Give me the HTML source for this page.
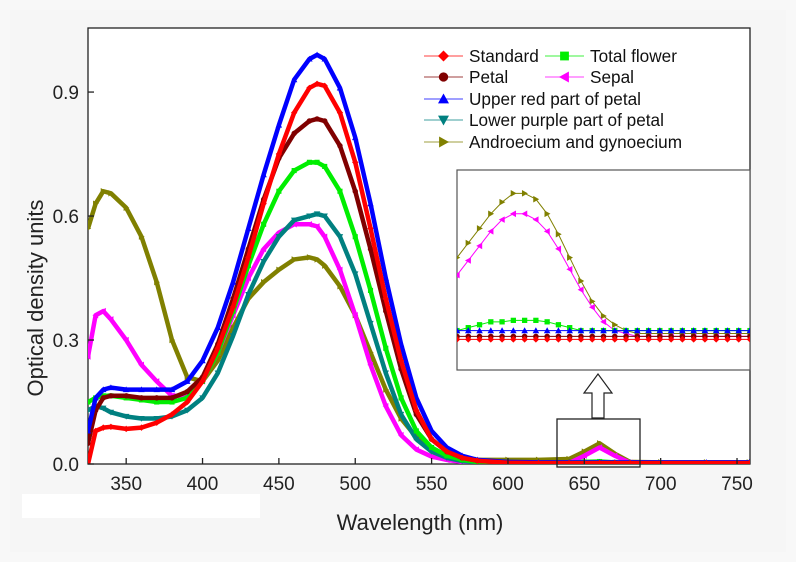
<!DOCTYPE html>
<html><head><meta charset="utf-8"><style>
body{margin:0;background:#f8f8f8;}
svg{display:block;font-family:"Liberation Sans",Arial,sans-serif;}
</style></head><body>
<svg id="chart" width="796" height="562" viewBox="0 0 796 562" xmlns="http://www.w3.org/2000/svg">
<rect x="0" y="0" width="796" height="562" fill="#f8f8f8"/>
<rect x="10" y="10" width="776" height="542" fill="#f6f6f6"/>
<rect x="112" y="160" width="118" height="22" fill="#fff"/>
<rect x="22" y="494" width="238" height="24" fill="#fff"/>
<g id="plot"></g>
</svg>
<script>
const wl = [325,330,335,340,350,360,370,380,390,400,410,420,430,440,450,460,470,475,480,490,500,510,520,530,540,550,560,570,580,600,620,640,650,660,670,680,700,730,758];
const sStandard = [0.0,0.08,0.088,0.09,0.085,0.088,0.1,0.12,0.15,0.2,0.28,0.38,0.5,0.63,0.75,0.85,0.91,0.92,0.915,0.85,0.73,0.57,0.4,0.25,0.13,0.06,0.03,0.015,0.008,0.003,0.002,0.002,0.002,0.002,0.002,0.002,0.002,0.002,0.002];
const sTotal = [0.15,0.16,0.165,0.165,0.16,0.155,0.15,0.15,0.16,0.2,0.27,0.37,0.48,0.58,0.66,0.71,0.73,0.73,0.72,0.66,0.55,0.42,0.28,0.16,0.08,0.04,0.02,0.01,0.005,0.003,0.003,0.003,0.005,0.006,0.004,0.003,0.003,0.003,0.003];
const sPetal = [0.05,0.13,0.16,0.165,0.165,0.16,0.16,0.16,0.175,0.21,0.29,0.4,0.52,0.64,0.74,0.8,0.83,0.835,0.83,0.77,0.66,0.52,0.37,0.23,0.12,0.06,0.03,0.015,0.008,0.003,0.002,0.002,0.002,0.002,0.002,0.002,0.002,0.002,0.002];
const sSepal = [0.26,0.36,0.37,0.35,0.3,0.24,0.2,0.165,0.165,0.2,0.27,0.36,0.45,0.52,0.56,0.58,0.58,0.575,0.55,0.47,0.36,0.24,0.14,0.07,0.035,0.018,0.01,0.005,0.003,0.002,0.002,0.002,0.02,0.04,0.02,0.003,0.002,0.002,0.002];
const sUpper = [0.08,0.16,0.18,0.185,0.18,0.18,0.18,0.18,0.2,0.25,0.33,0.44,0.57,0.7,0.82,0.93,0.98,0.99,0.98,0.91,0.79,0.63,0.45,0.29,0.16,0.08,0.04,0.02,0.01,0.005,0.004,0.004,0.004,0.004,0.004,0.004,0.004,0.004,0.004];
const sLower = [0.13,0.14,0.135,0.125,0.115,0.11,0.11,0.115,0.13,0.16,0.22,0.31,0.41,0.49,0.55,0.59,0.6,0.605,0.6,0.55,0.46,0.34,0.22,0.12,0.06,0.03,0.015,0.007,0.004,0.002,0.002,0.002,0.002,0.002,0.002,0.002,0.002,0.002,0.002];
const sAndro = [0.57,0.63,0.66,0.655,0.62,0.55,0.44,0.3,0.21,0.2,0.25,0.33,0.4,0.44,0.47,0.495,0.5,0.495,0.48,0.43,0.36,0.27,0.18,0.11,0.065,0.035,0.02,0.013,0.01,0.01,0.01,0.012,0.03,0.05,0.025,0.005,0.004,0.004,0.004];
const xTicks = [350,400,450,500,550,600,650,700,750];
const yTicks = [0.0,0.3,0.6,0.9];
const yTickLabels = ["0.0","0.3","0.6","0.9"];
const wlIn = [648,650,652,654,656,658,660,662,664,666,668,670,672,674,676,678,680,682,684,686,688,690,692,694,696,698,700];
const inAndro = [0.028,0.033,0.038,0.043,0.047,0.05,0.05,0.048,0.043,0.036,0.028,0.02,0.013,0.008,0.005,0.003,0.002,0.002,0.002,0.002,0.002,0.002,0.002,0.002,0.002,0.002,0.002];
const inSepal = [0.022,0.027,0.032,0.037,0.041,0.043,0.043,0.041,0.037,0.031,0.024,0.017,0.011,0.006,0.003,0.002,0.001,0.001,0.001,0.001,0.001,0.001,0.001,0.001,0.001,0.001,0.001];
const inTotal = [0.003,0.004,0.005,0.006,0.006,0.0065,0.0065,0.0065,0.006,0.005,0.004,0.003,0.003,0.003,0.003,0.003,0.003,0.003,0.003,0.003,0.003,0.003,0.003,0.003,0.003,0.003,0.003];
const inUpper = [0.003,0.003,0.003,0.003,0.003,0.003,0.003,0.003,0.003,0.003,0.003,0.003,0.003,0.003,0.003,0.003,0.003,0.003,0.003,0.003,0.003,0.003,0.003,0.003,0.003,0.003,0.003];
const inPetal = [0.001,0.001,0.001,0.001,0.001,0.001,0.001,0.001,0.001,0.001,0.001,0.001,0.001,0.001,0.001,0.001,0.001,0.001,0.001,0.001,0.001,0.001,0.001,0.001,0.001,0.001,0.001];
const inStandard = [0.0,0.0,0.0,0.0,0.0,0.0,0.0,0.0,0.0,0.0,0.0,0.0,0.0,0.0,0.0,0.0,0.0,0.0,0.0,0.0,0.0,0.0,0.0,0.0,0.0,0.0,0.0];

const NS="http://www.w3.org/2000/svg";
const g=document.getElementById('plot');
function mk(tag,attrs,parent){const e=document.createElementNS(NS,tag);for(const k in attrs)e.setAttribute(k,attrs[k]);(parent||g).appendChild(e);return e;}
const L=88,R=750,T=28,B=464;
const xMin=325,xMax=758.5,yMin=0,yMax=1.055;
const xs=v=>L+(v-xMin)/(xMax-xMin)*(R-L);
const ys=v=>B-(v-yMin)/(yMax-yMin)*(B-T);

function marker(shape,x,y,s,color,parent){
  let p;
  if(shape==='diamond')p=`M${x},${y-s} L${x+s},${y} L${x},${y+s} L${x-s},${y} Z`;
  else if(shape==='up')p=`M${x},${y-s} L${x+s},${y+s*0.8} L${x-s},${y+s*0.8} Z`;
  else if(shape==='down')p=`M${x},${y+s} L${x+s},${y-s*0.8} L${x-s},${y-s*0.8} Z`;
  else if(shape==='left')p=`M${x-s},${y} L${x+s*0.8},${y-s} L${x+s*0.8},${y+s} Z`;
  else if(shape==='right')p=`M${x+s},${y} L${x-s*0.8},${y-s} L${x-s*0.8},${y+s} Z`;
  else if(shape==='square')p=`M${x-s*0.8},${y-s*0.8} h${s*1.6} v${s*1.6} h${-s*1.6} Z`;
  if(shape==='circle')return mk('circle',{cx:x,cy:y,r:s*0.85,fill:color},parent);
  return mk('path',{d:p,fill:color},parent);
}

const series=[
 {name:'andro',data:sAndro,color:'#808000',shape:'right',inData:inAndro},
 {name:'sepal',data:sSepal,color:'#ff00ff',shape:'left',inData:inSepal},
 {name:'lower',data:sLower,color:'#008080',shape:'down',inData:null},
 {name:'total',data:sTotal,color:'#00ee00',shape:'square',inData:inTotal},
 {name:'petal',data:sPetal,color:'#800000',shape:'circle',inData:inPetal},
 {name:'upper',data:sUpper,color:'#0000ff',shape:'up',inData:inUpper},
 {name:'standard',data:sStandard,color:'#ff0000',shape:'diamond',inData:inStandard}
];
const frame=mk('rect',{x:L,y:T,width:R-L,height:B-T,fill:'#fff',stroke:'#222','stroke-width':1.3});


const clip=mk('clipPath',{id:'cp'});mk('rect',{x:L,y:T,width:R-L,height:B-T},clip);
series.forEach(s=>{
  const sg=mk('g',{'clip-path':'url(#cp)'});
  
  
  const pts=wl.map((w,i)=>xs(w)+','+ys(s.data[i])).join(' ');
  mk('polyline',{points:pts,fill:'none',stroke:s.color,'stroke-width':4.5,'stroke-linejoin':'round'},sg);
  wl.forEach((w,i)=>{const m=marker(s.shape,xs(w),ys(s.data[i]),3.2,s.color,sg);
    
    });
});
xTicks.forEach(t=>{
  mk('line',{x1:xs(t),x2:xs(t),y1:B,y2:B-6,stroke:'#222','stroke-width':1.3});
  const tx=mk('text',{x:xs(t),y:B+26,'text-anchor':'middle','font-size':19,fill:'#222'});tx.textContent=t;
  
  
});
yTicks.forEach((t,i)=>{
  mk('line',{x1:L,x2:L+6,y1:ys(t),y2:ys(t),stroke:'#222','stroke-width':1.3});
  const tx=mk('text',{x:L-9,y:ys(t)+7,'text-anchor':'end','font-size':19,fill:'#222'});tx.textContent=yTickLabels[i];
  
  
});
const xt=mk('text',{x:420,y:530,'text-anchor':'middle','font-size':22,fill:'#222'});xt.textContent='Wavelength (nm)';


const yt=mk('text',{x:0,y:0,transform:'translate(43,298) rotate(-90)','text-anchor':'middle','font-size':22,fill:'#222'});yt.textContent='Optical density units';



const zb=mk('rect',{x:557,y:419,width:83,height:48,fill:'none',stroke:'#222','stroke-width':1.3});


const ar=mk('path',{d:'M592,418 V393 H584 L598,374 L612,393 H604 V418 Z',fill:'#fff',stroke:'#222','stroke-width':1.2});



const IL=457,IR=750,IT=170,IB=370,ixMin=648,ixMax=700,iyMin=-0.0105,iyMax=0.058;
const ixs=v=>IL+(v-ixMin)/(ixMax-ixMin)*(IR-IL);
const iys=v=>IB-(v-iyMin)/(iyMax-iyMin)*(IB-IT);
const ib=mk('rect',{x:IL,y:IT,width:IR-IL,height:IB-IT,fill:'#fff',stroke:'#555','stroke-width':1.2});


const clip2=mk('clipPath',{id:'cp2'});mk('rect',{x:IL,y:IT,width:IR-IL,height:IB-IT},clip2);
series.forEach(s=>{
  if(!s.inData)return;
  const sg=mk('g',{'clip-path':'url(#cp2)'});
  
  
  mk('polyline',{points:wlIn.map((w,i)=>ixs(w)+','+iys(s.inData[i])).join(' '),fill:'none',stroke:s.color,'stroke-width':1},sg);
  wlIn.forEach((w,i)=>{const m=marker(s.shape,ixs(w),iys(s.inData[i]),3.3,s.color,sg);
    
    });
});

const leg=[
 ['Standard','#ff0000','diamond',424,56],['Total flower','#00ee00','square',545,56],
 ['Petal','#800000','circle',424,77],['Sepal','#ff00ff','left',545,77],
 ['Upper red part of petal','#0000ff','up',424,99],
 ['Lower purple part of petal','#008080','down',424,120],
 ['Androecium and gynoecium','#808000','right',424,142]];
leg.forEach(([t,c,sh,x,y])=>{
  const lg=mk('g',{});
  
  
  mk('line',{x1:x,x2:x+39,y1:y,y2:y,stroke:c,'stroke-width':1.2,opacity:0.6},lg);
  marker(sh,x+19.5,y,5.5,c,lg);
  const tx=mk('text',{x:x+45,y:y+6,'font-size':17.2,fill:'#111'},lg);tx.textContent=t;
});
</script>
</body></html>
